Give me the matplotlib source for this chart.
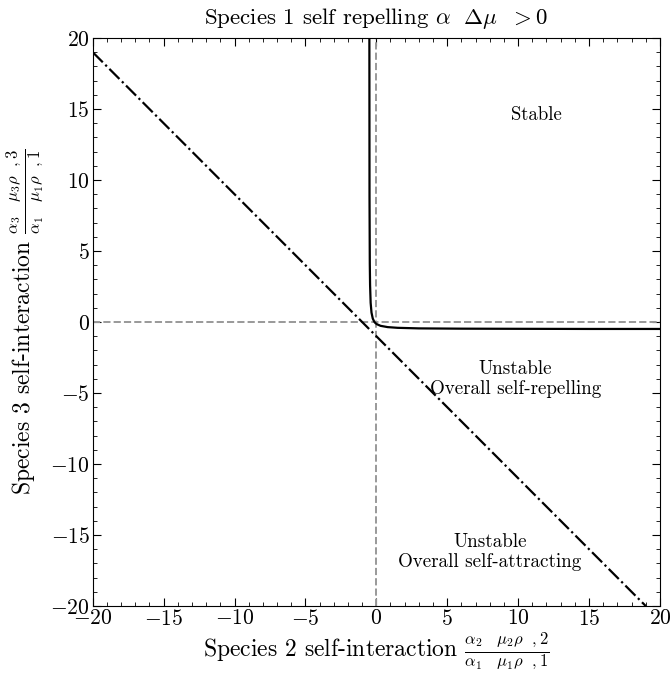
import matplotlib
matplotlib.use("Agg")
import matplotlib.pyplot as plt

plt.rcParams["font.family"] = "serif"
plt.rcParams["font.serif"] = ["cmr10"]
plt.rcParams["mathtext.fontset"] = "cm"
plt.rcParams["axes.formatter.use_mathtext"] = True

# boundary between stable / unstable
boundary_x = [-0.49, -0.48, -0.46, -0.44, -0.40, -0.34, -0.25, -0.15, -0.07,
              0.05, 0.3, 0.8, 1.5, 3, 6, 10, 15, 20]
boundary_y = [20, 8.8, 4.1, 2.6, 1.35, 0.66, 0.24, 0.03, -0.07,
              -0.16, -0.27, -0.36, -0.41, -0.45, -0.47, -0.48, -0.49, -0.49]

# self-repelling / self-attracting divide
divide_x = [-20, 19]
divide_y = [19, -20]

ticks = [-20, -15, -10, -5, 0, 5, 10, 15, 20]

fig = plt.figure(figsize=(6.72, 6.73), dpi=100)
ax = fig.add_axes([0.138, 0.0996, 0.844, 0.8439])

ax.axhline(0, color="#999999", ls="--", lw=1.4)
ax.axvline(0, color="#999999", ls="--", lw=1.4)
ax.plot(divide_x, divide_y, color="black", ls="-.", lw=1.6)
ax.plot(boundary_x, boundary_y, color="black", lw=1.6)

ax.text(11.3, 14.6, "Stable", ha="center", va="center", fontsize=13.5)
ax.text(9.8, -4.0, "Unstable\nOverall self-repelling", ha="center", va="center",
        fontsize=13.7, linespacing=1.15)
ax.text(8.0, -16.2, "Unstable\nOverall self-attracting", ha="center", va="center",
        fontsize=13.7, linespacing=1.15)

ax.set_xlim(-20, 20)
ax.set_ylim(-20, 20)
ax.set_xticks(ticks)
ax.set_yticks(ticks)
ax.minorticks_on()
ax.tick_params(which="both", direction="in", top=True, right=True, labelsize=15.5)
ax.tick_params(which="major", length=6, width=0.8, pad=2)
ax.tick_params(which="minor", length=3, width=0.6)

ax.set_title(r"Species 1 self repelling $\alpha\ \ \Delta\mu\ \ > 0$", fontsize=16.5, pad=10)
ax.set_xlabel(r"Species 2 self-interaction $\frac{\alpha_2\quad\mu_2\rho\ \ ,2}{\alpha_1\quad\mu_1\rho\ \ ,1}$",
              fontsize=17, labelpad=1)
ax.set_ylabel(r"Species 3 self-interaction $\frac{\alpha_3\quad\mu_3\rho\ \ ,3}{\alpha_1\quad\mu_1\rho\ \ ,1}$",
              fontsize=17, labelpad=3)

fig.savefig("out.png", dpi=100)
